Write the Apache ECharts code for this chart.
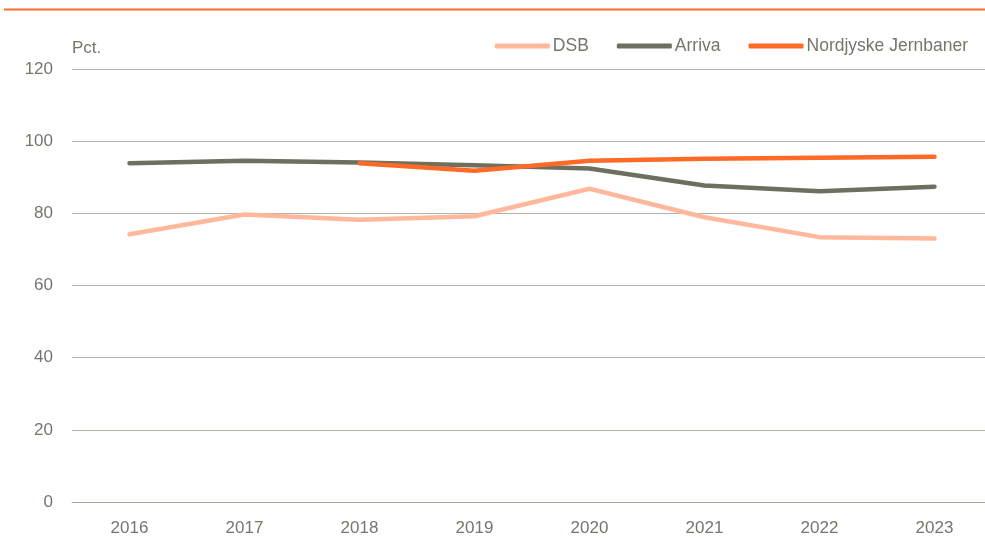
<!DOCTYPE html>
<html>
<head>
<meta charset="utf-8">
<script src="https://cdn.jsdelivr.net/npm/echarts@6/dist/echarts.min.js"></script>
<style>
html,body{margin:0;padding:0;background:#fff;}
#chart{width:985px;height:542px;}
</style>
</head>
<body>
<div id="chart"></div>
<script>
const years = ['2016','2017','2018','2019','2020','2021','2022','2023'];
const dsb = [74.2, 79.7, 78.2, 79.2, 86.8, 78.9, 73.4, 73.0];
const arriva = [93.9, 94.6, 94.1, 93.3, 92.4, 87.7, 86.1, 87.4];
const nordjyske = [null, null, 93.9, 91.8, 94.6, 95.1, 95.4, 95.7];
const yTicks = [0, 20, 40, 60, 80, 100, 120];

const textColor = '#76766a';
const FONT = '"Liberation Sans", Arial, sans-serif';
const chart = echarts.init(document.getElementById('chart'), null, {renderer: 'canvas'});
const mkLine = (name, data, color) => ({
  name, type: 'line', data, symbol: 'none', connectNulls: false,
  lineStyle: {color, width: 4.5, cap: 'round', join: 'round'},
  itemStyle: {color},
  emphasis: {disabled: true}
});
chart.setOption({
  animation: false,
  textStyle: {fontFamily: FONT},
  graphic: [{
    type: 'line', shape: {x1: 4, y1: 9.5, x2: 985, y2: 9.5},
    style: {stroke: '#ff6a2a', lineWidth: 2}
  }],
  legend: {
    right: 12, top: 32,
    itemWidth: 55, itemHeight: 5, itemGap: 28,
    icon: 'roundRect',
    textStyle: {color: textColor, fontSize: 17.5, fontFamily: FONT, padding: [0,0,0,-2]},
    data: ['DSB', 'Arriva', 'Nordjyske Jernbaner']
  },
  grid: {left: 72, top: 69, bottom: 40, width: 920, containLabel: false, outerBoundsMode: 'none'},
  xAxis: {
    type: 'category', data: years, boundaryGap: true,
    axisLine: {lineStyle: {color: '#a8a898', width: 1}},
    axisTick: {show: false},
    axisLabel: {color: textColor, fontSize: 17, margin: 18, fontFamily: FONT}
  },
  yAxis: {
    type: 'value', min: yTicks[0], max: yTicks[yTicks.length-1], interval: 20,
    name: 'Pct.', nameLocation: 'end', nameGap: 12,
    nameTextStyle: {color: textColor, fontSize: 17, align: 'left', verticalAlign: 'bottom', fontFamily: FONT},
    axisLine: {show: false}, axisTick: {show: false},
    axisLabel: {color: textColor, fontSize: 17, margin: 19, fontFamily: FONT},
    splitLine: {lineStyle: {color: '#b4b4a6', width: 1}}
  },
  series: [
    mkLine('DSB', dsb, '#ffb89c'),
    mkLine('Arriva', arriva, '#6f6f5f'),
    mkLine('Nordjyske Jernbaner', nordjyske, '#ff6a26')
  ]
});
</script>
</body>
</html>
